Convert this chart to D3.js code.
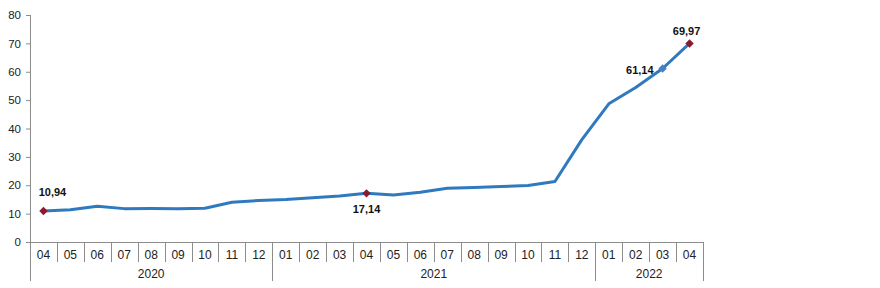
<!DOCTYPE html>
<html><head><meta charset="utf-8">
<script src="https://cdn.jsdelivr.net/npm/d3@7"></script>
<style>body{margin:0;background:#fff}svg{display:block}text{font-family:"Liberation Sans",Arial,sans-serif}</style>
</head><body><svg id="c" width="880" height="288"></svg>
<script>
const months = ["04","05","06","07","08","09","10","11","12","01","02","03","04","05","06","07","08","09","10","11","12","01","02","03","04"];
const years = ["2020","2021","2022"];
const yearOfMonth = [0,0,0,0,0,0,0,0,0,1,1,1,1,1,1,1,1,1,1,1,1,2,2,2,2];
const values = [10.94,11.39,12.62,11.76,11.77,11.75,11.89,14.03,14.60,14.97,15.61,16.19,17.14,16.59,17.53,18.95,19.25,19.58,19.89,21.31,36.08,48.69,54.44,61.14,69.97];
const yTicks = [0,10,20,30,40,50,60,70,80];
const labelled = [
  {i:0, text:"10,94", pos:"above", color:"#8b1a2b"},
  {i:12, text:"17,14", pos:"below", color:"#8b1a2b"},
  {i:23, text:"61,14", pos:"left", color:"#4a7fc1"},
  {i:24, text:"69,97", pos:"above2", color:"#8b1a2b"}
];

const svg = d3.select("#c");
const x0 = 30, x1 = 703, yTop = 15, yBot = 242;
const x = d3.scaleBand().domain(d3.range(months.length)).range([x0, x1]);
const y = d3.scaleLinear().domain([0,80]).range([yBot, yTop]);
const grey = "#8c8c8c";

// y axis
const ya = svg.append("g").attr("transform",`translate(${x0},0)`)
  .call(d3.axisLeft(y).tickValues(yTicks).tickSize(4).tickPadding(5));
ya.select(".domain").remove();
ya.selectAll(".tick line").attr("stroke", grey);
ya.selectAll(".tick text").attr("fill","#222").style("font-size","11.5px").style("font-family","'Liberation Sans',Arial,sans-serif");
svg.append("line").attr("x1",x0+0.5).attr("x2",x0+0.5).attr("y1",yTop).attr("y2",281).attr("stroke",grey);

// x axis
svg.append("line").attr("x1",x0).attr("x2",x1).attr("y1",yBot+0.5).attr("y2",yBot+0.5).attr("stroke",grey);
months.forEach((m,i)=>{
  const xi = Math.round(x(i)+x.bandwidth()) + 0.5;
  const isYearEnd = i===months.length-1 || yearOfMonth[i+1]!==yearOfMonth[i];
  svg.append("line").attr("x1",xi).attr("x2",xi).attr("y1",yBot).attr("y2",isYearEnd?281:262).attr("stroke",grey);
  svg.append("text").attr("x",x(i)+x.bandwidth()/2).attr("y",259).attr("text-anchor","middle")
    .attr("fill","#222").style("font-size","12px").text(m);
});
years.forEach((yr,k)=>{
  const idx = d3.range(months.length).filter(i=>yearOfMonth[i]===k);
  const a = x(idx[0]), b = x(idx[idx.length-1])+x.bandwidth();
  svg.append("text").attr("x",(a+b)/2).attr("y",278).attr("text-anchor","middle")
    .attr("fill","#222").style("font-size","12px").text(yr);
});

// line
const line = d3.line().x((d,i)=>x(i)+x.bandwidth()/2).y(d=>y(d));
svg.append("path").datum(values).attr("d",line).attr("fill","none")
  .attr("stroke","#2f7abf").attr("stroke-width",3).attr("stroke-linejoin","round");

// markers + labels
const r = 4.2;
labelled.forEach(l=>{
  const cx = x(l.i)+x.bandwidth()/2, cy = y(values[l.i]);
  svg.append("path").attr("d",`M0,${-r}L${r},0L0,${r}L${-r},0Z`).attr("transform",`translate(${cx},${cy})`).attr("fill",l.color);
  let tx=cx, ty=cy, anchor="middle";
  if(l.pos==="above"){tx=cx+9; ty=cy-15;}
  else if(l.pos==="above2"){tx=cx-3; ty=cy-8;}
  else if(l.pos==="below"){ty=cy+20;}
  else {tx=cx-9; ty=cy+5; anchor="end";}
  svg.append("text").attr("x",tx).attr("y",ty).attr("text-anchor",anchor)
    .attr("fill","#111").style("font-size","11px").style("font-weight","bold").text(l.text);
});
</script></body></html>
